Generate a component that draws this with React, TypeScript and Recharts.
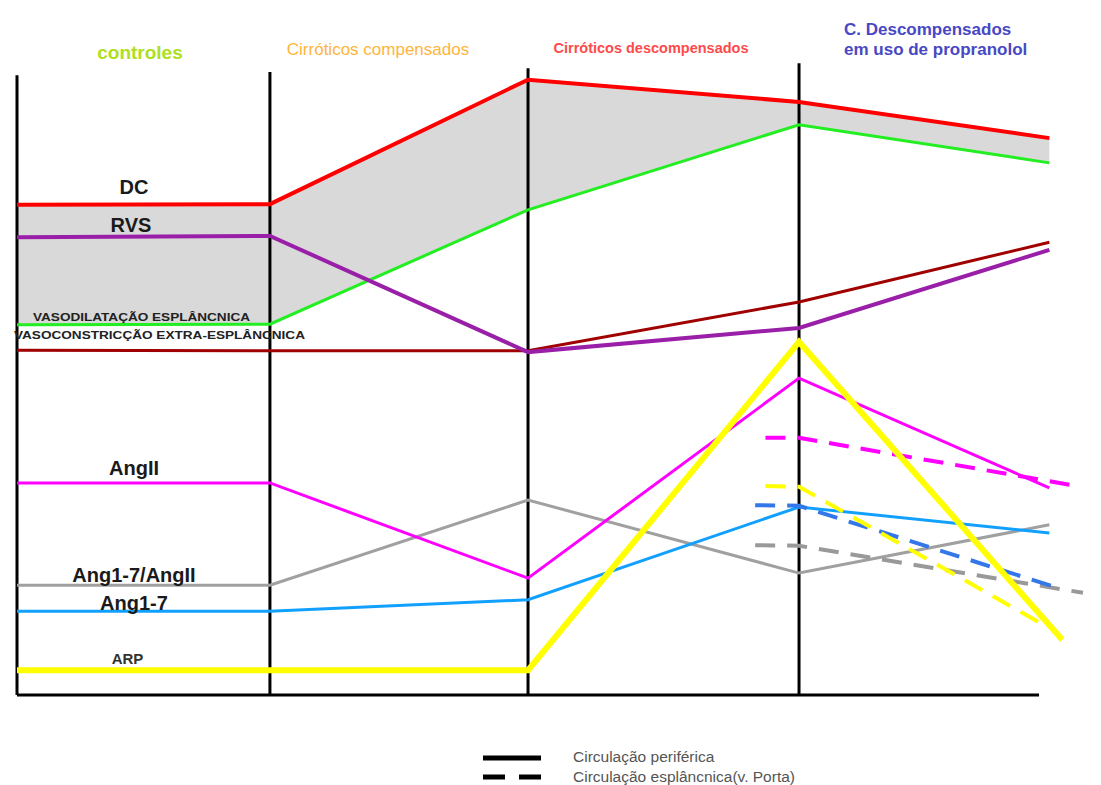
import React from 'react';
import { ComposedChart, Line, Area, XAxis, YAxis, ReferenceLine } from 'recharts';

// stage positions (0 = controles ... 4 = propranolol end)
const stages = [0, 0.98, 1.98, 3.03, 4];
const dcValues = [77.2, 77.3, 96.9, 93.4, 87.7];
const vasodilValues = [58.3, 58.4, 76.4, 89.8, 83.8];
const rvsValues = [72.1, 72.3, 54.0, 57.8, 70.1];
const vasoconstrValues = [54.3, 54.2, 54.2, 61.9, 71.3];
const angIIValues = [33.4, 33.4, 18.4, 49.9, 32.6];
const ratioValues = [17.3, 17.3, 30.7, 19.2, 26.8];
const ang17Values = [13.2, 13.2, 15.0, 29.6, 25.5];
const arpStages = [0, 0.98, 1.98, 3.03, 4.05];
const arpValues = [3.9, 3.9, 3.9, 55.6, 8.7];

// splanchnic (dashed) series
const angIIPortaStages = [2.9, 3.03, 4.08];
const angIIPortaValues = [40.5, 40.5, 33.1];
const arpPortaStages = [2.9, 3.03, 3.98];
const arpPortaValues = [32.9, 32.8, 11.0];
const ang17PortaStages = [2.86, 3.03, 4.03];
const ang17PortaValues = [29.9, 29.8, 16.9];
const ratioPortaStages = [2.86, 3.03, 4.13];
const ratioPortaValues = [23.6, 23.5, 16.1];

// group divider lines (stage, top value)
const dividerStages = [0, 0.98, 1.98, 3.03];
const dividerTops = [97.6, 98.1, 98.7, 99.5];
const baselineEnd = 3.96;

const groupTitles = ['controles', 'Cirróticos compensados', 'Cirróticos descompensados'];
const lastTitle = ['C. Descompensados', 'em uso de propranolol'];
const legendLabels = ['Circulação periférica', 'Circulação esplâncnica(v. Porta)'];

const build = (xs: number[], ys: number[]) => xs.map((x, i) => ({ x, y: ys[i] }));
const areaData = stages.map((x, i) => ({ x, range: [vasodilValues[i], dcValues[i]] }));

const FONT = '"Liberation Sans", Arial, sans-serif';

export default function App() {
  return (
    <div style={{ position: 'absolute', left: 0, top: 0, width: 1101, height: 785, background: '#fff' }}>
      <ComposedChart width={1101} height={785} margin={{ top: 60, right: 0, bottom: 90, left: 17 }}>
        <XAxis type="number" dataKey="x" domain={[0, 4.2]} hide allowDataOverflow />
        <YAxis type="number" domain={[0, 100]} hide allowDataOverflow />
        <Area data={areaData} dataKey="range" type="linear" fill="#d9d9d9" fillOpacity={1} stroke="none" isAnimationActive={false} />
        {dividerStages.map((s, i) => (
          <ReferenceLine key={'d' + i} segment={[{ x: s, y: dividerTops[i] }, { x: s, y: 0 }]} stroke="#000" strokeWidth={3} ifOverflow="visible" />
        ))}
        <ReferenceLine segment={[{ x: 0, y: 0 }, { x: baselineEnd, y: 0 }]} stroke="#000" strokeWidth={3} ifOverflow="visible" />
        <Line data={build(stages, vasodilValues)} dataKey="y" type="linear" stroke="#22ee22" strokeWidth={3} dot={false} isAnimationActive={false} />
        <Line data={build(stages, dcValues)} dataKey="y" type="linear" stroke="#ff0000" strokeWidth={4} dot={false} isAnimationActive={false} />
        <Line data={build(stages, vasoconstrValues)} dataKey="y" type="linear" stroke="#a00000" strokeWidth={3} dot={false} isAnimationActive={false} />
        <Line data={build(stages, rvsValues)} dataKey="y" type="linear" stroke="#9a1fa8" strokeWidth={4} dot={false} isAnimationActive={false} />
        <Line data={build(stages, ratioValues)} dataKey="y" type="linear" stroke="#a0a0a0" strokeWidth={3} dot={false} isAnimationActive={false} />
        <Line data={build(stages, ang17Values)} dataKey="y" type="linear" stroke="#12a0ff" strokeWidth={3} dot={false} isAnimationActive={false} />
        <Line data={build(stages, angIIValues)} dataKey="y" type="linear" stroke="#ff00ff" strokeWidth={3} dot={false} isAnimationActive={false} />
        <Line data={build(angIIPortaStages, angIIPortaValues)} dataKey="y" type="linear" stroke="#ff00ff" strokeWidth={4} strokeDasharray="20 12" dot={false} isAnimationActive={false} />
        <Line data={build(ratioPortaStages, ratioPortaValues)} dataKey="y" type="linear" stroke="#999999" strokeWidth={4} strokeDasharray="20 12" dot={false} isAnimationActive={false} />
        <Line data={build(ang17PortaStages, ang17PortaValues)} dataKey="y" type="linear" stroke="#3377e8" strokeWidth={4} strokeDasharray="20 12" dot={false} isAnimationActive={false} />
        <Line data={build(arpPortaStages, arpPortaValues)} dataKey="y" type="linear" stroke="#ffff00" strokeWidth={4} strokeDasharray="20 12" dot={false} isAnimationActive={false} />
        <Line data={build(arpStages, arpValues)} dataKey="y" type="linear" stroke="#ffff00" strokeWidth={6} dot={false} isAnimationActive={false} />
      </ComposedChart>
      <svg width={1101} height={785} style={{ position: 'absolute', left: 0, top: 0, pointerEvents: 'none' }} fontFamily={FONT}>
        <text x={140} y={59} textAnchor="middle" fontSize={19} fontWeight="bold" fill="#aee022">{groupTitles[0]}</text>
        <text x={378} y={55} textAnchor="middle" fontSize={17} fill="#ffb43c">{groupTitles[1]}</text>
        <text x={651} y={53} textAnchor="middle" fontSize={14.5} fontWeight="bold" fill="#ff4a4a">{groupTitles[2]}</text>
        <text x={844} y={35} fontSize={17} fontWeight="bold" fill="#4848c4">{lastTitle[0]}</text>
        <text x={844} y={55} fontSize={17} fontWeight="bold" fill="#4848c4">{lastTitle[1]}</text>

        <text x={134} y={194} textAnchor="middle" fontSize={20} fontWeight="bold" fill="#1a1a1a">DC</text>
        <text x={131} y={232} textAnchor="middle" fontSize={20} fontWeight="bold" fill="#1a1a1a">RVS</text>
        <text x={33} y={321} fontSize={11} fontWeight="bold" fill="#222" textLength={217} lengthAdjust="spacingAndGlyphs">VASODILATAÇÃO ESPLÂNCNICA</text>
        <text x={14} y={339} fontSize={11} fontWeight="bold" fill="#222" textLength={291} lengthAdjust="spacingAndGlyphs">VASOCONSTRICÇÃO EXTRA-ESPLÂNCNICA</text>
        <text x={134} y={475} textAnchor="middle" fontSize={20} fontWeight="bold" fill="#1a1a1a">AngII</text>
        <text x={134} y={582} textAnchor="middle" fontSize={20} fontWeight="bold" fill="#1a1a1a">Ang1-7/AngII</text>
        <text x={134} y={610} textAnchor="middle" fontSize={20} fontWeight="bold" fill="#1a1a1a">Ang1-7</text>
        <text x={127.5} y={664} textAnchor="middle" fontSize={15} fontWeight="bold" fill="#333">ARP</text>

        <line x1={483} y1={758} x2={541} y2={758} stroke="#000" strokeWidth={5} />
        <line x1={483} y1={777} x2={541} y2={777} stroke="#000" strokeWidth={5} strokeDasharray="22 14" />
        <text x={573} y={762} fontSize={15.5} fill="#555">{legendLabels[0]}</text>
        <text x={573} y={782} fontSize={15.5} fill="#555">{legendLabels[1]}</text>
      </svg>
    </div>
  );
}
